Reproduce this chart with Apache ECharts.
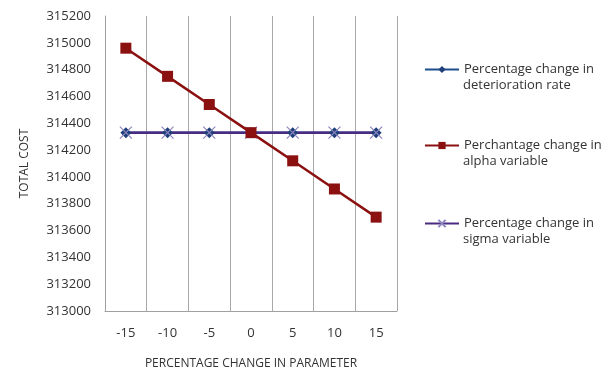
<!DOCTYPE html>
<html><head><meta charset="utf-8">
<script src="https://cdn.jsdelivr.net/npm/echarts@6/dist/echarts.min.js"></script>
<style>html,body{margin:0;padding:0;background:#fff}#c{width:613px;height:370px}</style>
</head><body><div id="c"></div>
<script>
const categories = ['-15','-10','-5','0','5','10','15'];
const deterioration = [314330,314330,314330,314330,314330,314330,314330];
const alpha = [314960,314750,314540,314330,314120,313910,313700];
const sigma = [314330,314330,314330,314330,314330,314330,314330];
const names = ['Percentage change in','Perchantage change in','Percentage change in '];
const secondLines = ['deterioration rate','alpha variable','sigma variable'];

const font = '"Open Sans", "Liberation Sans", sans-serif';
const chart = echarts.init(document.getElementById('c'));
const legendTops = [63, 139, 217];
function lg(name, top){
  return {data:[name], left:424, top:top, padding:0, orient:'vertical', itemWidth:34, itemHeight:9, itemGap:0,
    textStyle:{fontFamily:font, fontSize:13, color:'#333'}, selectedMode:false};
}
chart.setOption({
  animation:false,
  grid:{left:105, right:216, top:16, bottom:59, outerBoundsMode:'none', containLabel:false},
  legend:[lg(names[0],legendTops[0]), lg(names[1],legendTops[1]), lg(names[2],legendTops[2])],
  graphic: secondLines.map((t,i)=>({type:'text', left:463, top:legendTops[i]+16,
    style:{text:t, fontFamily:font, fontSize:13, fill:'#333'}})),
  xAxis:{type:'category', data:categories, boundaryGap:true,
    name:'PERCENTAGE CHANGE IN PARAMETER', nameLocation:'middle', nameGap:47,
    nameTextStyle:{fontFamily:font, fontSize:12, color:'#333'},
    axisLine:{lineStyle:{color:'#a0a0a0'}}, axisTick:{show:false},
    axisLabel:{fontFamily:font, fontSize:13, color:'#333', margin:16},
    splitLine:{show:true, lineStyle:{color:'#a8a8a8'}}},
  yAxis:{type:'value', min:313000, max:315200, interval:200,
    name:'TOTAL COST', nameLocation:'middle', nameGap:74, nameRotate:90,
    nameTextStyle:{fontFamily:font, fontSize:12, color:'#333'},
    axisLine:{show:true, lineStyle:{color:'#a0a0a0'}}, axisTick:{show:false},
    axisLabel:{fontFamily:font, fontSize:13, color:'#333', margin:14, formatter:v=>String(v)},
    splitLine:{show:false}},
  series:[
    {name:names[0], type:'line', data:deterioration, symbol:'diamond', symbolSize:11,
     itemStyle:{color:'#1f3f7a'}, lineStyle:{color:'#1f4e8c', width:2.5}, z:2},
    {name:names[1], type:'line', data:alpha, symbol:'rect', symbolSize:11,
     itemStyle:{color:'#8b1010'}, lineStyle:{color:'#8b1010', width:2.5}, z:3},
    {name:names[2], type:'line', data:sigma, symbol:'path://M0,0 L10,10 M10,0 L0,10', symbolSize:12,
     itemStyle:{color:'none', borderColor:'#8f86c0', borderWidth:1.2}, lineStyle:{color:'#4b2a82', width:2.5}, z:2}
  ]
});
</script></body></html>
